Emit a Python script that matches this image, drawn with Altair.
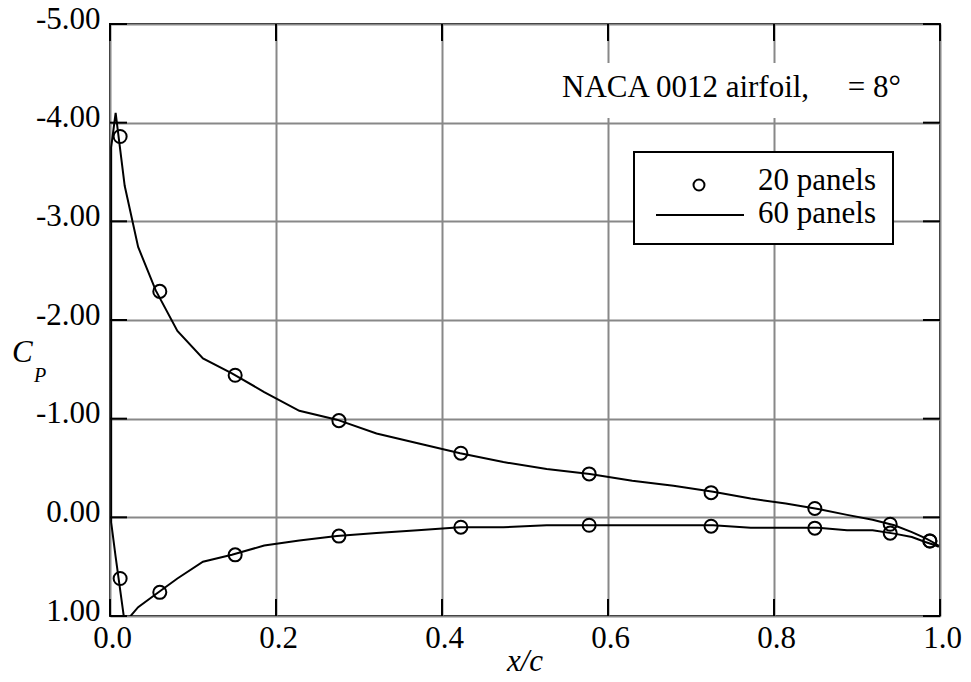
import altair as alt
import pandas as pd

# ---- data ----
x20 = [0.0122, 0.0600, 0.1508, 0.2758, 0.4227, 0.5773, 0.7242, 0.8492, 0.9400, 0.9878]
cp20_upper = [-3.86, -2.29, -1.44, -0.98, -0.65, -0.44, -0.25, -0.09, 0.07, 0.24]
cp20_lower = [0.62, 0.76, 0.38, 0.19, 0.10, 0.08, 0.09, 0.11, 0.16, 0.24]

x60 = [0.0014, 0.0068, 0.0177, 0.0339, 0.0551, 0.0812, 0.1120, 0.1469, 0.1858, 0.2281,
       0.2733, 0.3211, 0.3708, 0.4219, 0.4739, 0.5261, 0.5781, 0.6292, 0.6789, 0.7267,
       0.7719, 0.8142, 0.8531, 0.8880, 0.9188, 0.9449, 0.9661, 0.9823, 0.9932, 0.9986]
cp60_upper = [-3.75, -4.10, -3.36, -2.74, -2.30, -1.89, -1.61, -1.46, -1.27, -1.08,
              -0.99, -0.85, -0.75, -0.65, -0.56, -0.49, -0.44, -0.37, -0.32, -0.26,
              -0.19, -0.14, -0.085, -0.025, 0.025, 0.08, 0.15, 0.21, 0.26, 0.29]
cp60_lower = [0.05, 0.40, 1.07, 0.91, 0.78, 0.62, 0.45, 0.38, 0.285, 0.235,
              0.19, 0.16, 0.13, 0.10, 0.10, 0.08, 0.08, 0.08, 0.08, 0.08,
              0.105, 0.105, 0.105, 0.13, 0.13, 0.165, 0.20, 0.25, 0.28, 0.30]

x_ticks = [0.0, 0.2, 0.4, 0.6, 0.8, 1.0]
y_ticks = [-5, -4, -3, -2, -1, 0, 1]

title_text = "NACA 0012 airfoil,\u00a0\u00a0\u00a0\u00a0 = 8°"
legend_labels = ["20 panels", "60 panels"]

FONT = "Liberation Serif"
FS = 31
W, H = 830, 592
GRID = "#888888"

# ---- tables ----
line_rows = []
n = len(x60)
for i in range(n):  # lower surface, trailing edge -> leading edge
    j = n - 1 - i
    line_rows.append({"x": x60[j], "cp": cp60_lower[j], "order": i})
for i in range(n):  # upper surface, leading edge -> trailing edge
    line_rows.append({"x": x60[i], "cp": cp60_upper[i], "order": n + i})
line_df = pd.DataFrame(line_rows)

pt_df = pd.DataFrame({"x": x20 + x20, "cp": cp20_upper + cp20_lower})
xt_df = pd.DataFrame({"v": x_ticks})
yt_df = pd.DataFrame({"v": y_ticks})

xs = alt.Scale(domain=[0, 1], nice=False, zero=False)
ys = alt.Scale(domain=[-5, 1], reverse=True, nice=False, zero=False)

x_axis = alt.Axis(values=x_ticks, format=".1f", grid=True, gridColor=GRID, gridWidth=2,
                  ticks=False, tickSize=0, domain=False, title=None,
                  labelFont=FONT, labelFontSize=FS, labelColor="black",
                  labelBaseline="alphabetic", labelPadding=31, labelOffset=2,
                  labelOverlap=False, labelFlush=False, labelBound=False)
y_axis = alt.Axis(values=y_ticks, grid=True, gridColor=GRID, gridWidth=2,
                  ticks=False, tickSize=0, domain=False, title=None,
                  labelExpr="datum.value < 0 ? '-' + format(-datum.value, '.2f') : format(datum.value, '.2f')",
                  labelFont=FONT, labelFontSize=FS, labelColor="black",
                  labelBaseline="alphabetic", labelOffset=4, labelPadding=10,
                  labelOverlap=False, labelFlush=False, labelBound=False)

base_line = alt.Chart(line_df).mark_line(color="black", strokeWidth=2, clip=True).encode(
    x=alt.X("x:Q", scale=xs, axis=x_axis),
    y=alt.Y("cp:Q", scale=ys, axis=y_axis),
    order="order:Q",
)

title_bg = alt.Chart(pd.DataFrame({"a": [0]})).mark_rect(fill="white").encode(
    x=alt.value(435), x2=alt.value(828), y=alt.value(39), y2=alt.value(94))

points = alt.Chart(pt_df).mark_point(shape="circle", filled=False, color="black",
                                     strokeWidth=2, size=170, opacity=1).encode(
    x=alt.X("x:Q", scale=xs), y=alt.Y("cp:Q", scale=ys))

left_ticks = alt.Chart(yt_df).mark_rule(color="black", strokeWidth=2).encode(
    y=alt.Y("v:Q", scale=ys), x=alt.value(0), x2=alt.value(17))
right_ticks = alt.Chart(yt_df).mark_rule(color="black", strokeWidth=2).encode(
    y=alt.Y("v:Q", scale=ys), x=alt.value(W - 17), x2=alt.value(W))
top_ticks = alt.Chart(xt_df).mark_rule(color="black", strokeWidth=2).encode(
    x=alt.X("v:Q", scale=xs), y=alt.value(0), y2=alt.value(17))
bottom_ticks = alt.Chart(xt_df).mark_rule(color="black", strokeWidth=2).encode(
    x=alt.X("v:Q", scale=xs), y=alt.value(H - 17), y2=alt.value(H))

one = pd.DataFrame({"a": [0]})
title_txt = alt.Chart(one).mark_text(text=title_text, font=FONT, fontSize=FS, align="left",
                                     baseline="alphabetic", color="black").encode(
    x=alt.value(452), y=alt.value(73))

leg_box = alt.Chart(one).mark_rect(fill="white", stroke="black", strokeWidth=2).encode(
    x=alt.value(524), x2=alt.value(783), y=alt.value(128), y2=alt.value(220))
leg_pt = alt.Chart(one).mark_point(shape="circle", filled=False, color="black",
                                   strokeWidth=2, size=120, opacity=1).encode(
    x=alt.value(589), y=alt.value(161))
leg_line = alt.Chart(one).mark_rule(color="black", strokeWidth=2).encode(
    x=alt.value(546), x2=alt.value(634), y=alt.value(191))
leg_t1 = alt.Chart(one).mark_text(text=legend_labels[0], font=FONT, fontSize=FS, align="left",
                                  baseline="alphabetic", color="black").encode(
    x=alt.value(648), y=alt.value(166))
leg_t2 = alt.Chart(one).mark_text(text=legend_labels[1], font=FONT, fontSize=FS, align="left",
                                  baseline="alphabetic", color="black").encode(
    x=alt.value(648), y=alt.value(199))

xtitle = alt.Chart(one).mark_text(text="x/c", font=FONT, fontSize=FS, fontStyle="italic",
                                  align="center", baseline="alphabetic", color="black").encode(
    x=alt.value(W / 2), y=alt.value(647))
ytitle_c = alt.Chart(one).mark_text(text="C", font=FONT, fontSize=FS, fontStyle="italic",
                                    align="left", baseline="alphabetic", color="black").encode(
    x=alt.value(-98), y=alt.value(338))
ytitle_p = alt.Chart(one).mark_text(text="P", font=FONT, fontSize=20, fontStyle="italic",
                                    align="left", baseline="alphabetic", color="black").encode(
    x=alt.value(-76), y=alt.value(358))

chart = alt.layer(
    base_line, title_bg, points, left_ticks, right_ticks, top_ticks, bottom_ticks,
    title_txt, leg_box, leg_pt, leg_line, leg_t1, leg_t2, xtitle, ytitle_c, ytitle_p,
).properties(
    width=W, height=H,
    autosize=alt.AutoSizeParams(type="none"),
    padding={"left": 110, "top": 24, "right": 31, "bottom": 66},
    background="white",
).configure_view(stroke="black", strokeWidth=2)

chart.save("out.html", embed_options={"renderer": "svg", "actions": False})
